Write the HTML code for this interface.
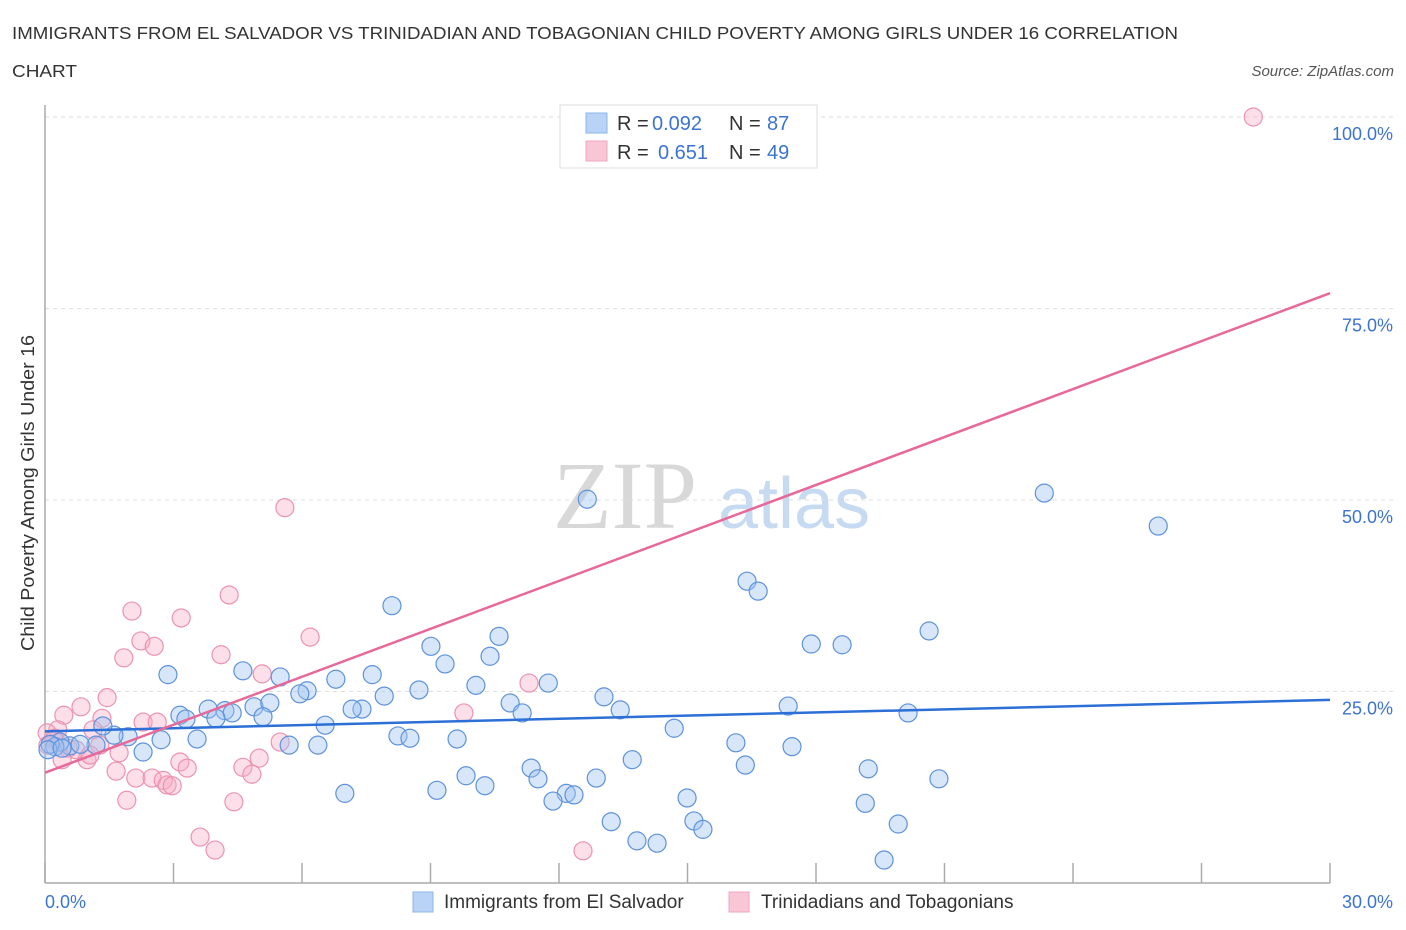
<!DOCTYPE html>
<html><head><meta charset="utf-8"><style>
body{margin:0;background:#fff;font-family:"Liberation Sans",sans-serif}
svg{display:block}
</style></head><body>
<svg id="chart" width="1406" height="930" xmlns="http://www.w3.org/2000/svg" font-family="Liberation Sans, sans-serif">
<text x="12" y="39" font-size="17.5" fill="#333" textLength="1166" lengthAdjust="spacingAndGlyphs">IMMIGRANTS FROM EL SALVADOR VS TRINIDADIAN AND TOBAGONIAN CHILD POVERTY AMONG GIRLS UNDER 16 CORRELATION</text>
<text x="12" y="77" font-size="17.5" fill="#333" textLength="65" lengthAdjust="spacingAndGlyphs">CHART</text>
<text x="1394" y="76" font-size="15" fill="#555" font-style="italic" text-anchor="end">Source: ZipAtlas.com</text>
<g>
<text x="553" y="528" font-size="96" font-family="Liberation Serif, serif" fill="#d8d8d8">ZIP</text>
<text x="718" y="528" font-size="72" fill="#c6daf2">atlas</text>
</g>
<g id="grid"></g>
<g id="axes"></g>
<g id="marks"></g>
<g id="lines"></g>
<g font-size="20">
<rect x="560" y="105" width="257" height="63" fill="#fff" stroke="#ddd"/>
<rect x="586" y="113" width="21" height="20" fill="#b8d3f5" stroke="#8cb4ea"/>
<rect x="586" y="141" width="21" height="20" fill="#f9c6d6" stroke="#f0a5bd"/>
<text x="617" y="130" fill="#333">R =</text>
<text x="652" y="130" fill="#3b74d0">0.092</text>
<text x="729" y="130" fill="#333">N =</text>
<text x="767" y="130" fill="#3b74d0">87</text>
<text x="617" y="159" fill="#333">R =</text>
<text x="658" y="159" fill="#3b74d0">0.651</text>
<text x="729" y="159" fill="#333">N =</text>
<text x="767" y="159" fill="#3b74d0">49</text>
</g>
<g>
<rect x="413" y="892" width="20" height="20" fill="#b8d3f5" stroke="#8cb4ea"/>
<text x="444" y="908" font-size="19" fill="#333">Immigrants from El Salvador</text>
<rect x="729" y="892" width="20" height="20" fill="#f9c6d6" stroke="#f0a5bd"/>
<text x="761" y="908" font-size="19" fill="#333">Trinidadians and Tobagonians</text>
</g>
<text transform="translate(34,493) rotate(-90)" font-size="18" fill="#333" text-anchor="middle" textLength="316" lengthAdjust="spacingAndGlyphs">Child Poverty Among Girls Under 16</text>
</svg>
<script>
const blueX=[12.66,23.33,25.99,16.39,16.65,8.10,10.60,9.01,17.89,18.61,20.64,2.87,4.62,5.49,7.64,9.34,10.39,11.75,10.06,8.73,7.92,6.12,5.95,6.79,13.05,13.43,10.86,11.14,17.35,20.15,14.69,4.88,5.25,3.81,4.20,4.37,3.15,3.29,3.99,5.09,7.40,7.17,6.54,8.24,8.52,9.62,6.37,5.70,3.55,2.71,2.29,1.94,1.61,1.35,1.19,0.58,0.82,0.35,0.23,0.12,16.13,17.44,13.71,16.35,19.22,20.87,11.35,11.51,12.87,9.83,10.27,7.00,9.15,12.17,12.35,11.86,14.99,19.15,13.22,15.15,15.36,19.92,13.82,14.29,19.59,0.07,0.40];
const blueY=[50.1,50.9,46.6,39.4,38.1,36.2,32.2,30.9,31.2,31.1,32.9,27.2,27.7,26.9,27.2,28.6,29.6,26.1,25.8,25.2,24.4,25.1,24.7,26.6,24.3,22.6,23.5,22.2,23.1,22.2,20.2,23.0,23.5,22.7,22.5,22.2,21.9,21.4,21.5,21.7,22.7,22.7,20.6,19.2,18.9,18.8,18.0,18.0,18.8,18.7,17.1,19.1,19.3,20.5,18.0,17.9,18.1,18.4,17.8,18.1,18.3,17.8,16.1,15.4,14.9,13.6,15.0,13.6,13.7,14.0,12.7,11.7,12.1,11.7,11.5,10.7,11.1,10.4,8.0,8.1,7.0,7.7,5.5,5.2,3.0,17.4,17.6];
const pinkX=[28.21,5.60,4.30,2.03,3.18,6.19,2.24,2.55,4.11,1.84,5.07,11.30,1.45,0.84,9.78,0.44,1.33,2.29,2.62,1.12,0.30,0.05,0.23,1.28,0.54,5.49,5.00,3.15,4.62,3.32,1.73,0.98,1.66,2.12,2.50,2.76,2.85,2.97,4.83,1.91,4.41,3.62,3.97,12.56,0.21,0.72,0.07,0.40,1.05];
const pinkY=[100.0,49.0,37.6,35.5,34.6,32.1,31.6,30.9,29.8,29.4,27.3,26.1,24.2,23.0,22.2,21.9,21.5,21.0,21.0,20.0,20.0,19.6,18.9,18.0,17.6,18.4,16.3,15.8,15.1,15.0,17.0,16.1,14.6,13.7,13.7,13.4,12.8,12.7,14.2,10.8,10.6,6.0,4.3,4.2,18.7,17.4,18.0,16.1,16.7];
const blueTrend=[19.8,23.9];
const pinkTrend=[14.4,77.0];
const yTicks=[25,50,75,100];
const yTickLabels=["25.0%","50.0%","75.0%","100.0%"];
const xTicks=[0,3,6,9,12,15,18,21,24,27,30];

const NS="http://www.w3.org/2000/svg";
const X0=45,X1=1330,Y0=883,Y1=117;
const sx=v=>X0+(v/30)*(X1-X0);
const sy=v=>Y0-(v/100)*(Y0-Y1);
function mk(tag,attrs,parent){const e=document.createElementNS(NS,tag);for(const k in attrs)e.setAttribute(k,attrs[k]);parent.appendChild(e);return e;}
const grid=document.getElementById('grid'),axes=document.getElementById('axes'),marks=document.getElementById('marks'),lines=document.getElementById('lines');
yTicks.forEach((t,i)=>{
  const l=mk('line',{x1:X0,x2:1395,y1:sy(t),y2:sy(t),stroke:'#ddd','stroke-dasharray':'4,4'},grid);
  
  
  const tx=mk('text',{x:1393,y:sy(t)+23,'font-size':18,fill:'#3b74d0','text-anchor':'end'},axes);
  tx.textContent=yTickLabels[i];
  
  
});
const ax=mk('line',{x1:X0,x2:X0,y1:105,y2:Y0,stroke:'#aaa','stroke-width':1.5},axes);


const bx=mk('line',{x1:X0,x2:X1,y1:Y0,y2:Y0,stroke:'#aaa','stroke-width':1.5},axes);


xTicks.forEach(t=>{
  const l=mk('line',{x1:sx(t),x2:sx(t),y1:Y0,y2:Y0-20,stroke:'#aaa','stroke-width':1.5},axes);
  
  
});
const xl0=mk('text',{x:45,y:908,'font-size':18,fill:'#3b74d0'},axes);xl0.textContent='0.0%';


const xl1=mk('text',{x:1393,y:908,'font-size':18,fill:'#3b74d0','text-anchor':'end'},axes);xl1.textContent='30.0%';


function dots(xs,ys,fill,stroke,name){
  xs.forEach((x,i)=>{
    const c=mk('circle',{cx:sx(x),cy:sy(ys[i]),r:9,fill:fill,stroke:stroke,'stroke-width':1.2},marks);
    
    
  });
}
dots(pinkX,pinkY,'rgba(246,172,196,0.38)','#ec93b0','point-trinidad');
dots(blueX,blueY,'rgba(160,196,240,0.42)','#5d92dc','point-el-salvador');
const bl=mk('line',{x1:sx(0),y1:sy(blueTrend[0]),x2:sx(30),y2:sy(blueTrend[1]),stroke:'#2c6fd6','stroke-width':2.5},lines);


const pl=mk('line',{x1:sx(0),y1:sy(pinkTrend[0]),x2:sx(30),y2:sy(pinkTrend[1]),stroke:'#e8689a','stroke-width':2.5},lines);


</script>
</body></html>
